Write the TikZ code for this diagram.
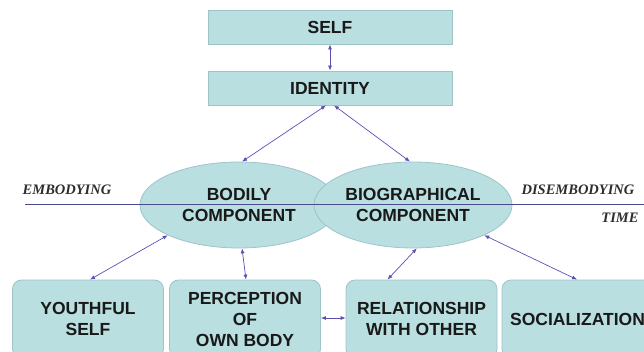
\documentclass[tikz,border=0pt]{standalone}
\usepackage{fontspec}
\setmainfont{Liberation Sans}
\newfontfamily\timefont{Liberation Serif}
\usetikzlibrary{shapes.geometric,arrows.meta}
\definecolor{boxfill}{HTML}{B9DFE1}
\definecolor{boxline}{HTML}{9FC4C8}
\definecolor{linkblue}{HTML}{5A50B4}
\definecolor{axisblue}{HTML}{4A4A8C}
\definecolor{labelgray}{HTML}{2E2E2E}
\tikzset{
  concept/.style={draw=boxline, fill=boxfill, line width=0.8pt, inner sep=0pt,
    text=black!90, font=\fontsize{17.5}{21}\selectfont\bfseries, align=center},
  topbox/.style={concept, rectangle, minimum width=244pt, minimum height=34pt},
  facet/.style={concept, rectangle, rounded corners=9pt, minimum width=151pt, minimum height=78pt},
  component/.style={concept, ellipse, minimum width=198pt, minimum height=86pt},
  axislabel/.style={font=\timefont\fontsize{14.5}{17}\selectfont\bfseries\itshape, text=labelgray, inner sep=0pt},
  link/.style={draw=linkblue, line width=0.7pt, {Latex[length=5pt,width=4pt]}-{Latex[length=5pt,width=4pt]}}
}
\begin{document}
\begin{tikzpicture}[x=1pt, y=-1pt]
  \path[use as bounding box] (0,0) rectangle (644,352);
  \clip (0,0) rectangle (644,352);
  % top of the hierarchy
  \node[topbox] (self) at (330,27) {SELF};
  \node[topbox] (identity) at (330,88) {IDENTITY};
  % the two components
  \node[component] (bodily) at (239,205) {BODILY\\COMPONENT};
  \node[component] (biographical) at (413,205) {BIOGRAPHICAL\\COMPONENT};
  % time axis
  \coordinate (axisstart) at (25,204);
  \coordinate (axisend) at (650,204);
  \draw[axisblue, line width=0.7pt] (axisstart) -- (axisend);
  \node[axislabel] (embodying) at (67,190) {EMBODYING};
  \node[axislabel] (disembodying) at (578,190) {DISEMBODYING};
  \node[axislabel] (time) at (620,218) {TIME};
  % facets
  \node[facet] (youthful) at (88,319) {YOUTHFUL\\SELF};
  \node[facet] (perception) at (245,319) {PERCEPTION\\OF\\OWN BODY};
  \node[facet] (relationship) at (421.5,319) {RELATIONSHIP\\WITH OTHER};
  \node[facet] (socialization) at (577.5,319) {SOCIALIZATION};
  % links
  \draw[link] (self) -- (identity);
  \draw[link] ([xshift=-4pt]identity.south) -- (bodily.86);
  \draw[link] ([xshift=4pt]identity.south) -- (biographical.94);
  \draw[link] (bodily.203) -- ([xshift=2pt]youthful.north);
  \draw[link] (bodily.274) -- ([xshift=1pt]perception.north);
  \draw[link] (biographical.275) -- ([xshift=-34pt]relationship.north);
  \draw[link] (biographical.337) -- ([xshift=-0.5pt]socialization.north);
  \draw[link] ([yshift=1pt]perception.east) -- ([yshift=1pt]relationship.west);
\end{tikzpicture}
\end{document}
